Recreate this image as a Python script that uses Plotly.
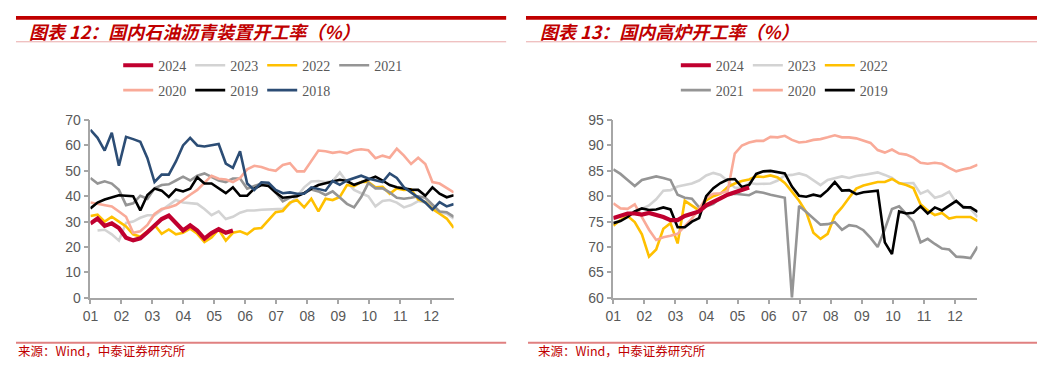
import plotly.graph_objects as go

# Page is 1045x372; the browser's default 8px body margin is accounted for,
# so the figure itself is 1029x356 and sits at (8, 8).
PAGE_W, PAGE_H = 1045, 372
OFF = 8
FW, FH = PAGE_W - 2 * OFF, PAGE_H - 2 * OFF

# ---------------- data (weekly, week index 0..51) ----------------
weeks = list(range(52))
month_ticks = ["01", "02", "03", "04", "05", "06", "07", "08", "09", "10", "11", "12"]

# 国内石油沥青装置开工率（%）
asph_2024 = [29.3, 31.2, 28.3, 29.3, 27.5, 23.6, 22.6, 23.4, 25.8, 28.5, 31.0, 32.4, 29.3, 26.5,
             28.5, 26.5, 23.3, 25.5, 27.0, 25.6, 26.5] + [None] * 31
asph_2023 = [None, 26.5, 26.8, 25, 22.5, 29.5, 30, 31.5, 32.5, 32.5, 34.5, 36.5, 38.5, 37.5, 37.3,
             37, 35, 32.5, 34, 31, 31.9, 33.5, 34.4, 34.4, 34.7, 34.8, 35, 35, 37, 40, 43.5, 45.8,
             46, 45.6, 46, 49.4, 45.6, 42.5, 41.2, 40, 36, 38.1, 38.5, 37.5, 35.6, 36.5, 38.1,
             37.5, 36.2, 33.7, 33.1, 31.2]
asph_2022 = [32.2, 32.7, 30, 31.9, 30, 28.1, 25, 24, 26.2, 28.7, 25.2, 26.9, 25, 25.6, 27.2, 25.2,
             21.9, 23.7, 26.9, 22.5, 25.6, 26.2, 25, 27.2, 27.5, 30.5, 33.7, 34.2, 37.5, 38.5, 35.6,
             39, 34, 39, 38.5, 39.7, 44.4, 44, 45.6, 45.6, 43.5, 43.7, 41, 43.1, 42.5, 42.7, 38.7,
             37.7, 35, 33.1, 31.2, 27.5]
asph_2021 = [47.2, 45, 45.9, 45, 42.5, 36.5, 37.2, 40.2, 39, 43.1, 44.4, 44.7, 46.2, 47.7, 46.2,
             48.1, 49, 47.7, 46.2, 45.6, 47, 47, 43, 44, 45, 44.5, 41.5, 38, 39.5, 40.5, 41.2, 42.7,
             41.9, 40.5, 41.9, 39.5, 37, 35.6, 39.7, 45.2, 43.1, 43.1, 41.5, 39.4, 39, 39.4, 40,
             39.4, 36.5, 34, 33.7, 31.9]
asph_2020 = [37.5, 36.9, 36.5, 36, 34, 31.9, 25.6, 26.2, 28.7, 33, 35, 35.6, 36.5, 38.7, 40.6, 42.5,
             45.2, 48.1, 46.9, 46.6, 45.6, 47.2, 50.6, 52, 51.5, 50.5, 50, 52.3, 53, 49.8, 49.8, 54,
             58, 57.7, 57.1, 57.5, 56.9, 58.1, 58.5, 58.1, 55, 56, 55.2, 58.7, 56, 52.7, 55.2, 52.7,
             45.6, 45, 43.1, 41.5]
asph_2019 = [35.2, 37.5, 38.7, 39.7, 40.4, 40.2, 40, 34.4, 40.5, 43, 42.2, 39.7, 42.7, 41.9, 43,
             47.5, 45, 45, 43, 41.2, 43.5, 40.2, 40.2, 43, 44.4, 44, 41.5, 39.4, 39.7, 40, 41.2, 43,
             44.4, 45, 45.8, 46.5, 46, 44.5, 45.5, 46.5, 47.7, 46.2, 44.4, 43.5, 43, 42.6, 42.5,
             40.2, 43.5, 41, 39.6, 40.4]
asph_2018 = [66.2, 63, 58, 65, 52, 63.4, 62.5, 61.5, 55, 45.6, 48.5, 48.5, 53.7, 60, 63, 60, 59.6,
             60, 60.6, 52.9, 51.2, 57.7, 45, 42.5, 45.5, 45.3, 42.5, 41.2, 41.5, 41, 41, 43.5, 42.7,
             42.2, 46, 44.5, 46.2, 47, 48.1, 47, 46.2, 45.6, 49, 47.2, 43.5, 41.5, 39.4, 37.5, 34.7,
             37.7, 36, 36.9]

# 国内高炉开工率（%）
bf_2024 = [75.7, 76.2, 76.6, 76.6, 76.4, 76.7, 76.4, 75.9, 75.3, 75.3, 76.1, 76.6, 77, 78.2, 78.8,
           79.6, 80.3, 80.8, 81.2, 81.7] + [None] * 32
bf_2023 = [75.5, 76, 76.5, 77, 77.5, 78.2, 79.4, 81.1, 81.2, 81.9, 82.2, 82.5, 83.1, 84.1, 84.6,
           84.2, 83, 81.7, 81.6, 82.6, 82.4, 82.4, 82.5, 83.1, 84.1, 84.2, 84.5, 84.1, 83.1, 82.2,
           83.2, 83.6, 83.9, 83.6, 84, 84.2, 84.5, 84.7, 84.2, 83.6, 82.5, 82.5, 82.6, 80.5, 81.1,
           79.7, 80.1, 80.9, 78.7, 78.1, 77.5, 75.9]
bf_2022 = [74.2, 75.3, 76.1, 74.9, 72.5, 68.1, 69.5, 73.6, 74.7, 70.7, 79.1, 78.2, 77.2, 79.2, 80,
           80.5, 81.8, 82.5, 83, 83.3, 83.9, 83.8, 84.1, 83.7, 82.6, 80.9, 79.1, 76.9, 72.8, 71.6,
           72.6, 76.2, 77.8, 79.7, 81.5, 82.1, 82.5, 82.8, 82.8, 83.4, 82.6, 82.2, 81.6, 78.4,
           77.2, 76.3, 76.7, 75.6, 75.9, 75.9, 75.9, 75.1]
bf_2021 = [85.3, 84.4, 83.2, 82, 83.2, 83.6, 83.9, 83.6, 83.2, 80.3, 79.7, 79.5, 77.8, 78, 78.5,
           79.7, 80.3, 80.5, 80.3, 80.2, 80.9, 80.7, 80.3, 80, 79.7, 60, 78.1, 76.9, 75.6, 74.4,
           74.5, 74.9, 73.4, 74.3, 74.1, 73.3, 71.8, 70, 73.5, 77.5, 78, 76.6, 75, 70.9, 71.6, 70.6,
           69.7, 69.5, 68.1, 68, 67.8, 70.1]
bf_2020 = [78.6, 77.6, 77.5, 78.4, 75.9, 73.4, 71.4, 71.9, 72.2, 72.6, 74.1, 75.6, 77.5, 79.7, 80.5,
           80.6, 81, 88.4, 90, 90.6, 90.9, 90.9, 91.7, 91.6, 91.9, 91.1, 90.6, 90.75, 91.1, 91.25,
           91.6, 92, 91.6, 91.6, 91.4, 91, 90.5, 89.1, 88.6, 89.2, 88.4, 88.2, 87.6, 86.6, 86.4,
           86.6, 86.4, 85.6, 84.9, 85.3, 85.6, 86.2]
bf_2019 = [74.7, 75.1, 75.9, 77, 77.6, 77.3, 77.4, 77.8, 77.4, 73.9, 73.9, 75, 75.7, 80, 81.6, 82.6,
           83.3, 83.4, 81.8, 82.2, 84.4, 84.9, 85, 84.7, 84.5, 81.9, 80.1, 79.9, 80.3, 80, 81.2,
           82.8, 81.1, 81.2, 80.4, 80.8, 80.9, 81.1, 70.9, 68.6, 77, 76.6, 76.75, 78, 76.6, 77.8,
           77.2, 78.2, 79.1, 77.8, 77.8, 76.9]

# week -> month offset (01 = 0)
xm = [w * 7 / 30.44 for w in weeks]

COL = {
    "2024": "#C0002F", "2023": "#D3D3D3", "2022": "#FFC000", "2021": "#959595",
    "2020": "#F9AA98", "2019": "#000000", "2018": "#2C4D75",
}
WID = {"2024": 4.2, "2023": 2.6, "2022": 2.6, "2021": 2.6, "2020": 2.6, "2019": 2.6, "2018": 2.6}

fig = go.Figure()

left = [("2023", asph_2023, "legend", 2), ("2022", asph_2022, "legend", 3),
        ("2021", asph_2021, "legend", 4), ("2020", asph_2020, "legend2", 5),
        ("2019", asph_2019, "legend2", 6), ("2018", asph_2018, "legend2", 7),
        ("2024", asph_2024, "legend", 1)]
for name, vals, lg, rk in left:
    fig.add_trace(go.Scatter(x=xm, y=vals, mode="lines", name=name, legend=lg, legendrank=rk,
                             line=dict(color=COL[name], width=WID[name]),
                             xaxis="x", yaxis="y", hoverinfo="skip"))

right = [("2023", bf_2023, "legend3", 2), ("2022", bf_2022, "legend3", 3),
         ("2021", bf_2021, "legend4", 4), ("2020", bf_2020, "legend4", 5),
         ("2019", bf_2019, "legend4", 6), ("2024", bf_2024, "legend3", 1)]
for name, vals, lg, rk in right:
    fig.add_trace(go.Scatter(x=xm, y=vals, mode="lines", name=name, legend=lg, legendrank=rk,
                             line=dict(color=COL[name], width=WID[name]),
                             xaxis="x2", yaxis="y2", hoverinfo="skip"))


def px(x):
    """page pixel x -> paper coordinate"""
    return (x - OFF) / FW


def py(y):
    """page pixel y -> paper coordinate"""
    return 1 - (y - OFF) / FH


AX = "#A6A6A6"
TICKFONT = dict(family="Liberation Sans, Arial", size=14, color="#595959")
xcommon = dict(tickmode="array", tickvals=list(range(12)), ticktext=month_ticks,
               range=[0, 11.72], showline=True, linecolor=AX, linewidth=1.5,
               ticks="outside", ticklen=5, tickcolor=AX, tickwidth=1.5,
               showgrid=False, zeroline=False, tickfont=TICKFONT, fixedrange=True)
ycommon = dict(showline=True, linecolor=AX, linewidth=1.5, ticks="outside", ticklen=5,
               tickcolor=AX, tickwidth=1.5, showgrid=False, zeroline=False,
               tickfont=TICKFONT, fixedrange=True)

legfont = dict(family="Liberation Serif, Times New Roman", size=14, color="#595959")


def leg(xp, yp):
    return dict(orientation="h", x=px(xp), y=py(yp), xanchor="left", yanchor="middle",
                font=legfont, bgcolor="rgba(0,0,0,0)", entrywidth=27, entrywidthmode="pixels",
                itemwidth=30, traceorder="normal")


fig.update_layout(
    width=FW, height=FH, autosize=False,
    margin=dict(l=0, r=0, t=0, b=0),
    paper_bgcolor="white", plot_bgcolor="white",
    showlegend=True,
    xaxis=dict(domain=[px(83), px(449)], anchor="y", **xcommon),
    yaxis=dict(domain=[py(303), py(117)], anchor="x", range=[0, 70], dtick=10, **ycommon),
    xaxis2=dict(domain=[px(610), px(977)], anchor="y2", **xcommon),
    yaxis2=dict(domain=[py(303), py(117)], anchor="x2", range=[60, 95], dtick=5, **ycommon),
    legend=leg(111, 60), legend2=leg(111, 86),
    legend3=leg(673, 60), legend4=leg(673, 86),
)

shapes = []
for (a, b) in [(8, 502), (522, 1037)]:
    shapes.append(dict(type="rect", xref="paper", yref="paper", x0=px(a), x1=px(b),
                       y0=py(12), y1=py(8), fillcolor="#C00000", line=dict(width=0)))
    shapes.append(dict(type="line", xref="paper", yref="paper", x0=px(a), x1=px(b),
                       y0=py(35), y1=py(35), line=dict(color="#E9A9A9", width=1)))
for (a, b) in [(8, 502), (524, 1037)]:
    shapes.append(dict(type="line", xref="paper", yref="paper", x0=px(a), x1=px(b),
                       y0=py(350), y1=py(350), line=dict(color="#E08080", width=2)))
fig.update_layout(shapes=shapes)

TITLEFONT = dict(family="Noto Sans CJK SC", size=18, color="#C00000")
SRCFONT = dict(family="Noto Sans CJK SC", size=12.5, color="#C00000")
ann = [
    dict(text="<b><i>图表 12：国内石油沥青装置开工率（%）</i></b>", x=px(19), y=py(24)),
    dict(text="<b><i>图表 13：国内高炉开工率（%）</i></b>", x=px(534), y=py(24)),
]
for a in ann:
    fig.add_annotation(xref="paper", yref="paper", xanchor="left", yanchor="middle",
                       showarrow=False, font=TITLEFONT, **a)
for xs in (8, 532):
    fig.add_annotation(text="来源：Wind，中泰证券研究所", xref="paper", yref="paper",
                       x=px(xs), y=py(358), xanchor="left", yanchor="middle",
                       showarrow=False, font=SRCFONT)

fig.write_html("out.html", config={"displayModeBar": False})
